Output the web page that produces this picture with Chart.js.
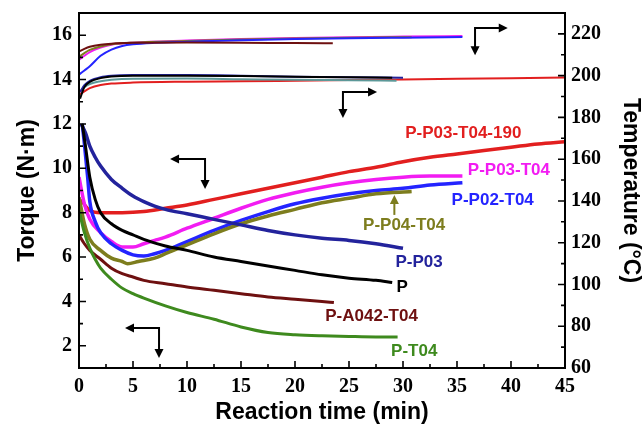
<!DOCTYPE html>
<html>
<head>
<meta charset="utf-8">
<script src="https://cdn.jsdelivr.net/npm/chart.js@4/dist/chart.umd.min.js"></script>
<style>
  html, body { margin: 0; padding: 0; background: #fff; }
</style>
</head>
<body>
<canvas id="chart" width="644" height="430"></canvas>
<script>
// reaction time (min), torque (N·m)
var torqueP = [[0.3,12.0],[0.6,11.0],[1,9.6],[1.5,8.6],[2,8.0],[3,7.5],[4,7.2],[5,7.0],[6,6.8],[8,6.5],[10,6.3],[12.5,6.0],[15,5.8],[17.5,5.6],[20,5.4],[22.5,5.2],[25,5.05],[27.5,4.95],[29,4.85]];
var torqueP03 = [[0.2,12.0],[0.6,11.6],[1,11.0],[1.5,10.5],[2,10.1],[3,9.5],[4,9.1],[5,8.75],[6,8.5],[7,8.3],[8,8.15],[10,7.95],[12.5,7.7],[15,7.45],[17.5,7.2],[20,7.0],[22.5,6.85],[25,6.75],[27.5,6.6],[30,6.4]];
var torqueP03T04190 = [[0.2,8.6],[0.6,8.3],[1,8.1],[2,8.0],[4,8.0],[6,8.05],[8,8.2],[10,8.35],[12.5,8.6],[15,8.85],[17.5,9.1],[20,9.35],[22.5,9.6],[25,9.85],[27.5,10.05],[30,10.3],[32.5,10.5],[35,10.65],[37.5,10.8],[40,10.95],[42.5,11.1],[45,11.2]];
var torqueP03T04 = [[0,9.6],[0.5,8.4],[1,7.7],[2,7.1],[3,6.7],[4,6.45],[5,6.45],[6,6.6],[7,6.75],[8,6.9],[10,7.3],[12.5,7.75],[15,8.2],[17.5,8.6],[20,8.9],[22.5,9.15],[25,9.35],[27.5,9.5],[30,9.6],[32.5,9.65],[35.5,9.65]];
var torqueP02T04 = [[0.3,12.0],[0.5,11.1],[0.8,9.6],[1,8.5],[1.5,7.6],[2,7.1],[3,6.6],[4,6.3],[5,6.1],[6,6.05],[7,6.15],[8,6.3],[10,6.7],[12.5,7.2],[15,7.65],[17.5,8.05],[20,8.4],[22.5,8.65],[25,8.85],[27.5,9.0],[30,9.1],[32.5,9.25],[35.5,9.35]];
var torqueP04T04 = [[0,8.7],[0.5,7.5],[1,6.8],[2,6.3],[3,5.95],[4,5.8],[4.5,5.7],[5.5,5.8],[7,5.95],[8,6.15],[10,6.55],[12.5,7.05],[15,7.5],[17.5,7.85],[20,8.15],[22.5,8.45],[25,8.65],[27.5,8.85],[30.8,8.95]];
var torqueA042T04 = [[0,7.0],[0.5,6.6],[1,6.3],[2,5.9],[3,5.5],[4,5.25],[5,5.1],[6,4.95],[8,4.8],[10,4.65],[12.5,4.5],[15,4.35],[17.5,4.2],[20,4.1],[22.5,4.0],[23.6,3.95]];
var torqueT04 = [[0,8.1],[0.5,7.1],[1,6.4],[1.5,5.9],[2,5.5],[3,5.0],[4,4.6],[5,4.35],[6,4.15],[8,3.8],[10,3.5],[12.5,3.2],[15,2.85],[17.5,2.6],[20,2.5],[22.5,2.45],[25,2.42],[27.5,2.4],[29.5,2.4]];

// reaction time (min), melt temperature (°C)
var tempP = [[0.1,189],[0.5,194.5],[1,197],[2,198.8],[3,199.6],[5,200],[10,200],[15,199.8],[20,199.5],[25,199.2],[29,199]];
var tempP03 = [[0.1,192],[0.5,195.5],[1,197.5],[2,199.3],[3,200],[5,200.3],[10,200.3],[15,200],[20,199.5],[25,199.2],[30,199]];
var tempT04 = [[0.1,192.5],[0.5,194.5],[1,196],[2,197.3],[3,198],[5,198.5],[10,198.6],[15,198.3],[20,198],[25,197.8],[29.4,197.6]];
var tempP03T04190 = [[0.1,191],[0.5,192.5],[1,194],[2,195.5],[3,196.2],[5,196.7],[10,197.1],[15,197.3],[20,197.6],[25,197.9],[30,198.2],[35,198.5],[40,198.8],[45,199.1]];
var tempA042T04 = [[0,211.5],[0.5,212.8],[1,213.8],[2,214.8],[3,215.3],[5,215.7],[10,215.9],[15,215.8],[20,215.6],[23.5,215.5]];
var tempP03T04 = [[0,207.5],[0.5,209.5],[1,211.3],[2,213.5],[3,214.8],[5,215.8],[10,216.8],[15,217.5],[20,218],[25,218.4],[30,218.7],[35.5,219]];
var tempP04T04 = [[0,209],[0.5,210.8],[1,212.3],[2,214],[3,215],[5,215.8],[10,216.6],[15,217.3],[20,217.8],[25,218.2],[30.8,218.4]];
var tempP02T04 = [[0,200.5],[0.5,202.5],[1,204.5],[2,209.5],[3,212.5],[4,214.2],[5,215],[7,215.7],[10,216.2],[15,217],[20,217.5],[25,217.9],[30,218.2],[35.5,218.5]];

var timeTicks = [0, 5, 10, 15, 20, 25, 30, 35, 40, 45];
var torqueTicks = [2, 4, 6, 8, 10, 12, 14, 16];
var tempTicks = [60, 80, 100, 120, 140, 160, 180, 200, 220];

var curveNames = ["P-P03-T04-190", "P-P03-T04", "P-P02-T04", "P-P04-T04", "P-P03", "P", "P-A042-T04", "P-T04"];

var colors = {
  red: "#e21f1f", magenta: "#f21cf2", blue: "#2424ff", olive: "#7d7d1e",
  navy: "#23239c", black: "#000000", brown: "#6e1010", green: "#3e8a1e", teal: "#5c9898"
};
var nameColors = [colors.red, colors.magenta, colors.blue, colors.olive, colors.navy, colors.black, colors.brown, colors.green];
// where each curve name sits (time, torque)
var nameSpots = [[30.2, 11.6], [36.0, 9.92], [34.5, 8.57], [26.3, 7.45], [29.3, 5.78], [29.4, 4.65], [22.8, 3.34], [28.9, 1.77]];
// elbow arrows: corner, horizontal tip time, vertical tip torque
var arrowMarks = [
  { x: 36.67, y: 16.32, hx: 39.7, vy: 15.1 },
  { x: 24.44, y: 13.44, hx: 27.6, vy: 12.27 },
  { x: 11.67, y: 10.42, hx: 8.43, vy: 9.07 },
  { x: 7.41, y: 2.80, hx: 4.26, vy: 1.45 }
];
var oliveArrow = { x: 29.2, from: 7.9, to: 8.8 };

function pts(arr) {
  return arr.map(function (p) { return { x: p[0], y: p[1] }; });
}

function line(data, color, axis, width) {
  return {
    data: pts(data),
    yAxisID: axis,
    borderColor: color,
    borderWidth: width,
    pointRadius: 0,
    fill: false,
    cubicInterpolationMode: "monotone"
  };
}

var serifTick = { family: "Liberation Serif", weight: "bold", size: 20 };
var sansTitle = { family: "Liberation Sans", weight: "bold", size: 23 };

function noPad(s) {
  s.paddingTop = 0; s.paddingBottom = 0; s.paddingLeft = 0; s.paddingRight = 0;
}

function head(ctx, x, y, dx, dy) {
  var len = 9, half = 4.5;
  var px = -dy, py = dx;
  ctx.beginPath();
  ctx.moveTo(x, y);
  ctx.lineTo(x - dx * len + px * half, y - dy * len + py * half);
  ctx.lineTo(x - dx * len - px * half, y - dy * len - py * half);
  ctx.closePath();
  ctx.fill();
}

var decor = {
  id: "decor",
  afterDraw: function (chart) {
    var ctx = chart.ctx;
    var a = chart.chartArea;
    var sx = chart.scales.x, sy = chart.scales.y, sr = chart.scales.y1;
    ctx.save();
    ctx.strokeStyle = "#000";
    ctx.fillStyle = "#000";
    ctx.lineWidth = 2;
    ctx.strokeRect(a.left, a.top, a.right - a.left, a.bottom - a.top);

    // inward tick marks
    ctx.lineWidth = 1.6;
    ctx.beginPath();
    var v, p, len;
    for (v = 0; v <= 45; v += 2.5) {
      p = sx.getPixelForValue(v);
      len = v % 5 === 0 ? 7 : 4;
      ctx.moveTo(p, a.bottom); ctx.lineTo(p, a.bottom - len);
    }
    for (v = 2; v <= 16; v += 1) {
      p = sy.getPixelForValue(v);
      len = v % 2 === 0 ? 7 : 4;
      ctx.moveTo(a.left, p); ctx.lineTo(a.left + len, p);
    }
    for (v = 70; v <= 220; v += 10) {
      p = sr.getPixelForValue(v);
      len = v % 20 === 0 ? 7 : 4;
      ctx.moveTo(a.right, p); ctx.lineTo(a.right - len, p);
    }
    ctx.stroke();

    // elbow arrows
    ctx.lineWidth = 2;
    arrowMarks.forEach(function (m) {
      var cx = sx.getPixelForValue(m.x), cy = sy.getPixelForValue(m.y);
      var hx = sx.getPixelForValue(m.hx), vy = sy.getPixelForValue(m.vy);
      var dir = hx > cx ? 1 : -1;
      ctx.beginPath();
      ctx.moveTo(hx - dir * 8, cy); ctx.lineTo(cx, cy); ctx.lineTo(cx, vy - 8);
      ctx.stroke();
      head(ctx, hx, cy, dir, 0);
      head(ctx, cx, vy, 0, 1);
    });

    // olive pointer to P-P04-T04
    ctx.strokeStyle = colors.olive;
    ctx.fillStyle = colors.olive;
    var ox = sx.getPixelForValue(oliveArrow.x);
    var oy1 = sy.getPixelForValue(oliveArrow.from), oy2 = sy.getPixelForValue(oliveArrow.to);
    ctx.beginPath();
    ctx.moveTo(ox, oy1); ctx.lineTo(ox, oy2 + 8);
    ctx.stroke();
    head(ctx, ox, oy2, 0, -1);

    // curve names
    ctx.font = "bold 17px 'Liberation Sans', Arial, sans-serif";
    ctx.textAlign = "left";
    ctx.textBaseline = "middle";
    curveNames.forEach(function (name, i) {
      ctx.fillStyle = nameColors[i];
      ctx.fillText(name, sx.getPixelForValue(nameSpots[i][0]), sy.getPixelForValue(nameSpots[i][1]));
    });
    ctx.restore();
  }
};

new Chart(document.getElementById("chart"), {
  type: "line",
  data: {
    datasets: [
      line(tempP, colors.black, "y1", 2),
      line(tempP03, colors.navy, "y1", 2),
      line(tempT04, colors.teal, "y1", 2),
      line(tempP03T04190, colors.red, "y1", 2),
      line(tempA042T04, colors.brown, "y1", 2),
      line(tempP02T04, colors.blue, "y1", 2),
      line(tempP04T04, colors.olive, "y1", 2),
      line(tempP03T04, colors.magenta, "y1", 2),
      line(torqueT04, colors.green, "y", 3),
      line(torqueA042T04, colors.brown, "y", 3),
      line(torqueP, colors.black, "y", 3),
      line(torqueP03, colors.navy, "y", 3.5),
      line(torqueP04T04, colors.olive, "y", 3.5),
      line(torqueP02T04, colors.blue, "y", 3.5),
      line(torqueP03T04, colors.magenta, "y", 3.5),
      line(torqueP03T04190, colors.red, "y", 3.5)
    ]
  },
  options: {
    responsive: false,
    animation: false,
    layout: { padding: { top: 13, left: 0, right: 0, bottom: 0 } },
    plugins: { legend: { display: false }, tooltip: { enabled: false } },
    scales: {
      x: {
        type: "linear",
        min: 0,
        max: 45,
        grid: { display: false, drawTicks: false },
        border: { display: false },
        afterBuildTicks: function (s) { s.ticks = timeTicks.map(function (v) { return { value: v }; }); },
        afterFit: function (s) { s.height = 62; noPad(s); },
        ticks: { color: "#000", font: serifTick, padding: 7, maxRotation: 0 },
        title: { display: true, text: "Reaction time (min)", color: "#000", font: sansTitle, padding: { top: 0, bottom: 4 } }
      },
      y: {
        position: "left",
        min: 1,
        max: 17,
        grid: { display: false, drawTicks: false },
        border: { display: false },
        afterBuildTicks: function (s) { s.ticks = torqueTicks.map(function (v) { return { value: v }; }); },
        afterFit: function (s) { s.width = 79; noPad(s); },
        ticks: { color: "#000", font: serifTick, padding: 7 },
        title: { display: true, text: "Torque (N·m)", color: "#000", font: sansTitle, padding: { top: 14, bottom: 0 } }
      },
      y1: {
        position: "right",
        min: 60,
        max: 230,
        grid: { display: false, drawTicks: false },
        border: { display: false },
        afterBuildTicks: function (s) { s.ticks = tempTicks.map(function (v) { return { value: v }; }); },
        afterFit: function (s) { s.width = 79; noPad(s); },
        ticks: { color: "#000", font: serifTick, padding: 6 },
        title: { display: true, text: "Temperature (°C)", color: "#000", font: sansTitle, padding: { top: 0, bottom: 0 } }
      }
    }
  },
  plugins: [decor]
});
</script>
</body>
</html>
